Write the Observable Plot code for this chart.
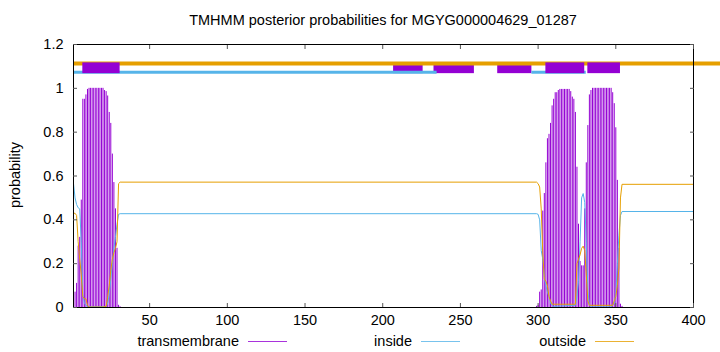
<!DOCTYPE html>
<html><head><meta charset="utf-8">
<script src="https://cdn.jsdelivr.net/npm/d3@7"></script>
<script src="https://cdn.jsdelivr.net/npm/@observablehq/plot@0.6"></script>
<style>
body{margin:0;background:#fff;}
#wrap{position:relative;width:720px;height:352px;font-family:"Liberation Sans",Arial,sans-serif;color:#000;overflow:hidden;}
.t{position:absolute;white-space:nowrap;font-size:14.5px;line-height:1;}
.ln{position:absolute;height:1px;width:39px;opacity:0.8;}
</style></head><body><div id="wrap"></div>
<script>
// ---- data ----
const title = "TMHMM posterior probabilities for MGYG000004629_01287";
const xTicks = [50, 100, 150, 200, 250, 300, 350, 400];
const yTicks = [0, 0.2, 0.4, 0.6, 0.8, 1, 1.2];

// transmembrane posterior (impulses)
const tmResidues = [
  1,2,3,4,5,6,7,8,9,10,11,12,13,14,15,16,17,18,19,20,21,22,23,24,25,26,27,28,29,30,31,
  299,300,301,302,303,304,305,306,307,308,309,310,311,312,313,314,315,316,317,318,319,320,
  321,322,323,324,325,326,327,328,329,330,331,332,333,334,335,336,337,338,339,340,341,342,
  343,344,345,346,347,348,349,350,351,352,353,354];
const tmProb = [
  0.03,0.07,0.11,0.28,0.32,0.49,0.95,0.95,0.97,0.995,1,1,1,1,1,1,1,1,1,1,0.99,0.985,0.965,0.89,0.84,0.70,0.57,0.45,0.27,0.01,0.003,
  0.005,0.01,0.07,0.08,0.44,0.52,0.66,0.77,0.79,0.84,0.92,0.95,0.98,0.98,0.99,0.995,0.995,0.995,0.995,0.995,0.995,0.995,
  0.985,0.96,0.95,0.89,0.64,0.38,0.21,0.19,0.19,0.45,0.66,0.83,0.97,0.99,1,1,1,1,1,1,1,1,
  1,1,1,1,1,0.98,0.93,0.82,0.58,0.27,0.015,0.005];

// inside posterior (line)
const insideResidues = [
  1,2,3,4,5,6,7,8,9,10,11,20,21,22,23,24,25,26,27,28,29,30,31,
  299,300,301,302,303,304,305,306,307,308,309,310,324,325,326,327,328,329,330,331,332,333,334,
  347,348,349,350,351,352,353,354,400];
const insideProb = [
  0.565,0.50,0.47,0.455,0.45,0.30,0.06,0.02,0.01,0.005,0.003,0.003,0.004,0.005,0.02,0.06,0.13,0.20,0.27,0.32,0.38,0.425,0.428,
  0.428,0.425,0.40,0.26,0.22,0.14,0.10,0.07,0.05,0.02,0.008,0.005,0.01,0.05,0.12,0.30,0.50,0.52,0.48,0.30,0.08,0.01,0.003,
  0.003,0.01,0.02,0.06,0.20,0.33,0.42,0.438,0.438];

// outside posterior (line)
const outsideResidues = [
  1,2,3,4,5,6,7,8,9,10,11,20,21,22,23,24,25,26,27,28,29,30,31,
  299,300,301,302,303,304,305,306,307,308,309,324,325,326,327,328,329,330,331,332,333,
  348,349,350,351,352,353,354,400];
const outsideProb = [
  0.43,0.43,0.42,0.30,0.22,0.15,0.05,0.04,0.04,0.01,0.002,0.002,0.004,0.005,0.05,0.10,0.17,0.22,0.25,0.27,0.30,0.565,0.572,
  0.572,0.565,0.55,0.45,0.25,0.13,0.12,0.10,0.05,0.03,0.015,0.015,0.20,0.22,0.24,0.27,0.28,0.26,0.15,0.03,0.01,
  0.01,0.03,0.05,0.10,0.18,0.50,0.562,0.562];

// predicted topology header segments [start, end]
const outsideSegStart = [1],   outsideSegEnd = [418];
const insideSegStart = [1, 296], insideSegEnd = [235, 331];
const tmBackStart = [207, 233, 274], tmBackEnd = [226, 259, 296];
const tmFrontStart = [7, 305, 332], tmFrontEnd = [31, 330, 353];
const OUT_LEVEL = 1.113, IN_LEVEL = 1.073, TM_LO = 1.067, TM_HI = 1.116;

// ---- build tables ----
const zip = (xs, ys) => xs.map((x, i) => ({pos: x, p: ys[i]}));
const segs = (s, e) => s.map((v, i) => ({start: v, end: e[i]}));
const tm = zip(tmResidues, tmProb);
const inside = zip(insideResidues, insideProb);
const outside = zip(outsideResidues, outsideProb);

const PURPLE = "#9400D3", BLUE = "#56B4E9", ORANGE = "#E69F00";
const FONT = '"Liberation Sans", Arial, sans-serif';

const chart = Plot.plot({
  width: 720, height: 352,
  marginLeft: 73, marginRight: 27, marginTop: 44, marginBottom: 45,
  style: {fontFamily: FONT, fontSize: "14.5px", background: "transparent", overflow: "visible", color: "#000"},
  x: {domain: [1, 400], label: null},
  y: {domain: [0, 1.2], label: null},
  marks: [
    Plot.ruleX(tm, {x: "pos", y: "p", stroke: PURPLE, strokeWidth: 1}),
    Plot.line(inside, {x: "pos", y: "p", stroke: BLUE, strokeWidth: 1}),
    Plot.line(outside, {x: "pos", y: "p", stroke: ORANGE, strokeWidth: 1}),
    Plot.rect(segs(tmBackStart, tmBackEnd), {x1: "start", x2: "end", y1: TM_LO, y2: TM_HI, fill: PURPLE}),
    Plot.ruleY(segs(insideSegStart, insideSegEnd), {x1: "start", x2: "end", y: IN_LEVEL, stroke: BLUE, strokeWidth: 3}),
    Plot.ruleY(segs(outsideSegStart, outsideSegEnd), {x1: "start", x2: "end", y: OUT_LEVEL, stroke: ORANGE, strokeWidth: 4}),
    Plot.rect(segs(tmFrontStart, tmFrontEnd), {x1: "start", x2: "end", y1: TM_LO, y2: TM_HI, fill: PURPLE}),
    Plot.frame({stroke: "#000"}),
    Plot.axisX(xTicks, {anchor: "bottom", label: null, tickSize: -4, tickPadding: 11, stroke: "#555", fill: "#000"}),
    Plot.axisX(xTicks, {anchor: "top", label: null, tickSize: -4, tickFormat: () => "", stroke: "#555"}),
    Plot.axisY(yTicks, {anchor: "left", label: null, tickSize: -4, tickPadding: 14, tickFormat: d => String(+d.toFixed(1)), stroke: "#555", fill: "#000"}),
    Plot.axisY(yTicks, {anchor: "right", label: null, tickSize: -4, tickFormat: () => "", stroke: "#555"})
  ]
});

const wrap = document.getElementById("wrap");
chart.style.position = "absolute";
chart.style.left = "0px";
chart.style.top = "0px";
wrap.appendChild(chart);

function addText(txt, css) {
  const d = document.createElement("div");
  d.className = "t";
  d.textContent = txt;
  Object.assign(d.style, css);
  wrap.appendChild(d);
  return d;
}
addText(title, {left: "73px", width: "620px", textAlign: "center", top: "13px"});
addText("probability", {left: "15px", top: "175px", transform: "translate(-50%,-50%) rotate(-90deg)"});

const legend = [
  {label: "transmembrane", color: PURPLE, right: 239, line: 248},
  {label: "inside", color: BLUE, right: 412, line: 421},
  {label: "outside", color: ORANGE, right: 586, line: 595}
];
legend.forEach(l => {
  addText(l.label, {right: (720 - l.right) + "px", top: "334px"});
  const ln = document.createElement("div");
  ln.className = "ln";
  ln.style.left = l.line + "px";
  ln.style.top = "341px";
  ln.style.backgroundColor = l.color;
  wrap.appendChild(ln);
});
</script>
</body></html>
